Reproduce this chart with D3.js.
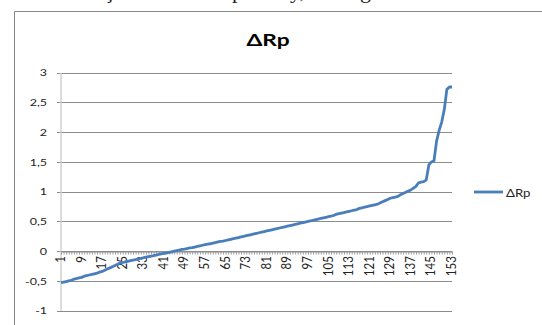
<!DOCTYPE html>
<html>
<head>
<meta charset="utf-8">
<script src="https://cdn.jsdelivr.net/npm/d3@7"></script>
<style>
  html, body { margin: 0; padding: 0; background: #fff; }
  svg { display: block; }
</style>
</head>
<body>
<svg id="chart" width="542" height="325"></svg>
<script>
// data
const seriesName = 'ΔRp'
const values = [
  -0.53, -0.52, -0.51, -0.50, -0.49, -0.47, -0.46, -0.45, -0.44, -0.42,
  -0.41, -0.40, -0.39, -0.38, -0.37, -0.35, -0.34, -0.32, -0.30,
  -0.28, -0.26, -0.24, -0.22, -0.20, -0.19,
  -0.18, -0.17, -0.16, -0.15, -0.14, -0.13, -0.12, -0.11, -0.10, -0.09,
  -0.085, -0.075, -0.065, -0.055, -0.045, -0.035, -0.03, -0.02, -0.01, 0.00,
  0.01, 0.02, 0.03, 0.035, 0.045, 0.055, 0.06, 0.07, 0.08, 0.09,
  0.10, 0.11, 0.12, 0.125, 0.135, 0.145, 0.155, 0.165, 0.17, 0.18,
  0.19, 0.20, 0.21, 0.22, 0.23,
  0.24, 0.25, 0.26, 0.27, 0.28, 0.29, 0.30, 0.31, 0.32, 0.33,
  0.34, 0.35, 0.36, 0.37, 0.38, 0.39, 0.40, 0.41, 0.42, 0.43,
  0.44, 0.45, 0.46, 0.47, 0.48, 0.49, 0.50, 0.51, 0.52, 0.53,
  0.54, 0.55, 0.56, 0.57,
  0.58, 0.59, 0.60, 0.62, 0.63, 0.64, 0.65, 0.66, 0.67, 0.68,
  0.69, 0.70, 0.72, 0.73,
  0.74, 0.75, 0.76, 0.77, 0.78, 0.79, 0.81,
  0.83, 0.85, 0.87, 0.89, 0.90, 0.91, 0.92,
  0.95, 0.97, 0.99, 1.01, 1.03, 1.06, 1.09, 1.15,
  1.16, 1.17, 1.20, 1.45,
  1.50, 1.52, 1.85, 2.03, 2.17, 2.38, 2.72, 2.76, 2.76
]
const categories = values.map((v, i) => i + 1)
const xTickLabels = categories.filter(c => (c - 1) % 8 === 0)
const yTicks = [-1, -0.5, 0, 0.5, 1, 1.5, 2, 2.5, 3]

const svg = d3.select('#chart')
const font = 'Lato, "Open Sans", sans-serif'
const lineColor = '#4a7ebb'
const gridColor = '#8c8c8c'

const plotLeft = 61, plotRight = 452, plotTop = 72.7, plotBottom = 310.7

const x = d3.scalePoint()
  .domain(categories)
  .range([plotLeft, plotRight])

const y = d3.scaleLinear()
  .domain([-1, 3])
  .range([plotBottom, plotTop])

// bits of the page text cut off above the chart (only descenders show)
svg.append('g')
  .attr('font-family', '"Liberation Serif", serif')
  .attr('font-size', 22)
  .attr('fill', '#222')
  .selectAll('text')
  .data([{t: 'ç', x: 104}, {t: 'p', x: 232}, {t: 'y,', x: 290}, {t: 'g', x: 360}])
  .join('text')
  .attr('x', d => d.x)
  .attr('y', -2)
  .text(d => d.t)

// chart area border (runs off the right edge)
svg.append('path')
  .attr('d', 'M14.5,330 V11.5 H560')
  .attr('fill', 'none')
  .attr('stroke', '#888')
  .attr('stroke-width', 1)

// title
svg.append('text')
  .attr('transform', `translate(268, 46) scale(1.3, 1)`)
  .attr('text-anchor', 'middle')
  .attr('font-family', font)
  .attr('font-weight', 'bold')
  .attr('font-size', 17.5)
  .attr('fill', '#000')
  .text(seriesName)

// gridlines
svg.append('g')
  .selectAll('line')
  .data(yTicks)
  .join('line')
  .attr('x1', plotLeft - 4)
  .attr('x2', plotRight)
  .attr('y1', d => Math.round(y(d)) + 0.5)
  .attr('y2', d => Math.round(y(d)) + 0.5)
  .attr('stroke', gridColor)
  .attr('stroke-width', 1)

// y axis line
svg.append('line')
  .attr('x1', plotLeft)
  .attr('x2', plotLeft)
  .attr('y1', plotTop)
  .attr('y2', plotBottom)
  .attr('stroke', '#d0d0d0')
  .attr('stroke-width', 1.5)

// y labels
svg.append('g')
  .selectAll('text')
  .data(yTicks)
  .join('text')
  .attr('transform', d => `translate(${plotLeft - 14}, ${y(d) + 3.6}) scale(1.25, 1)`)
  .attr('text-anchor', 'end')
  .attr('font-family', font)
  .attr('font-size', 10)
  .attr('fill', '#222')
  .text(d => String(d).replace('.', ','))

// category axis at zero with a tick for every point
const xAxis = svg.append('g')
  .attr('transform', `translate(0, ${Math.round(y(0)) + 0.5})`)
  .call(d3.axisBottom(x).tickSize(3).tickSizeOuter(0).tickFormat(''))
xAxis.select('.domain').attr('stroke', gridColor)
xAxis.selectAll('.tick line').attr('stroke', '#9a9a9a')

svg.append('g')
  .selectAll('text')
  .data(xTickLabels)
  .join('text')
  .attr('transform', d => `translate(${x(d) + 4}, ${y(0) + 5}) scale(1.15, 1) rotate(-90)`)
  .attr('text-anchor', 'end')
  .attr('font-family', font)
  .attr('font-size', 11.5)
  .attr('fill', '#222')
  .text(d => d)

// the series
const line = d3.line()
  .x((d, i) => x(categories[i]))
  .y(d => y(d))

svg.append('path')
  .datum(values)
  .attr('d', line)
  .attr('fill', 'none')
  .attr('stroke', lineColor)
  .attr('stroke-width', 2.8)
  .attr('stroke-linejoin', 'round')

// legend
const legend = svg.append('g')
  .attr('transform', 'translate(474, 192)')
legend.append('line')
  .attr('x1', 0)
  .attr('x2', 29)
  .attr('stroke', lineColor)
  .attr('stroke-width', 2.8)
legend.append('text')
  .attr('transform', 'translate(32, 4.5) scale(1.2, 1)')
  .attr('font-family', font)
  .attr('font-size', 11)
  .attr('fill', '#222')
  .text(seriesName)
</script>
</body>
</html>
